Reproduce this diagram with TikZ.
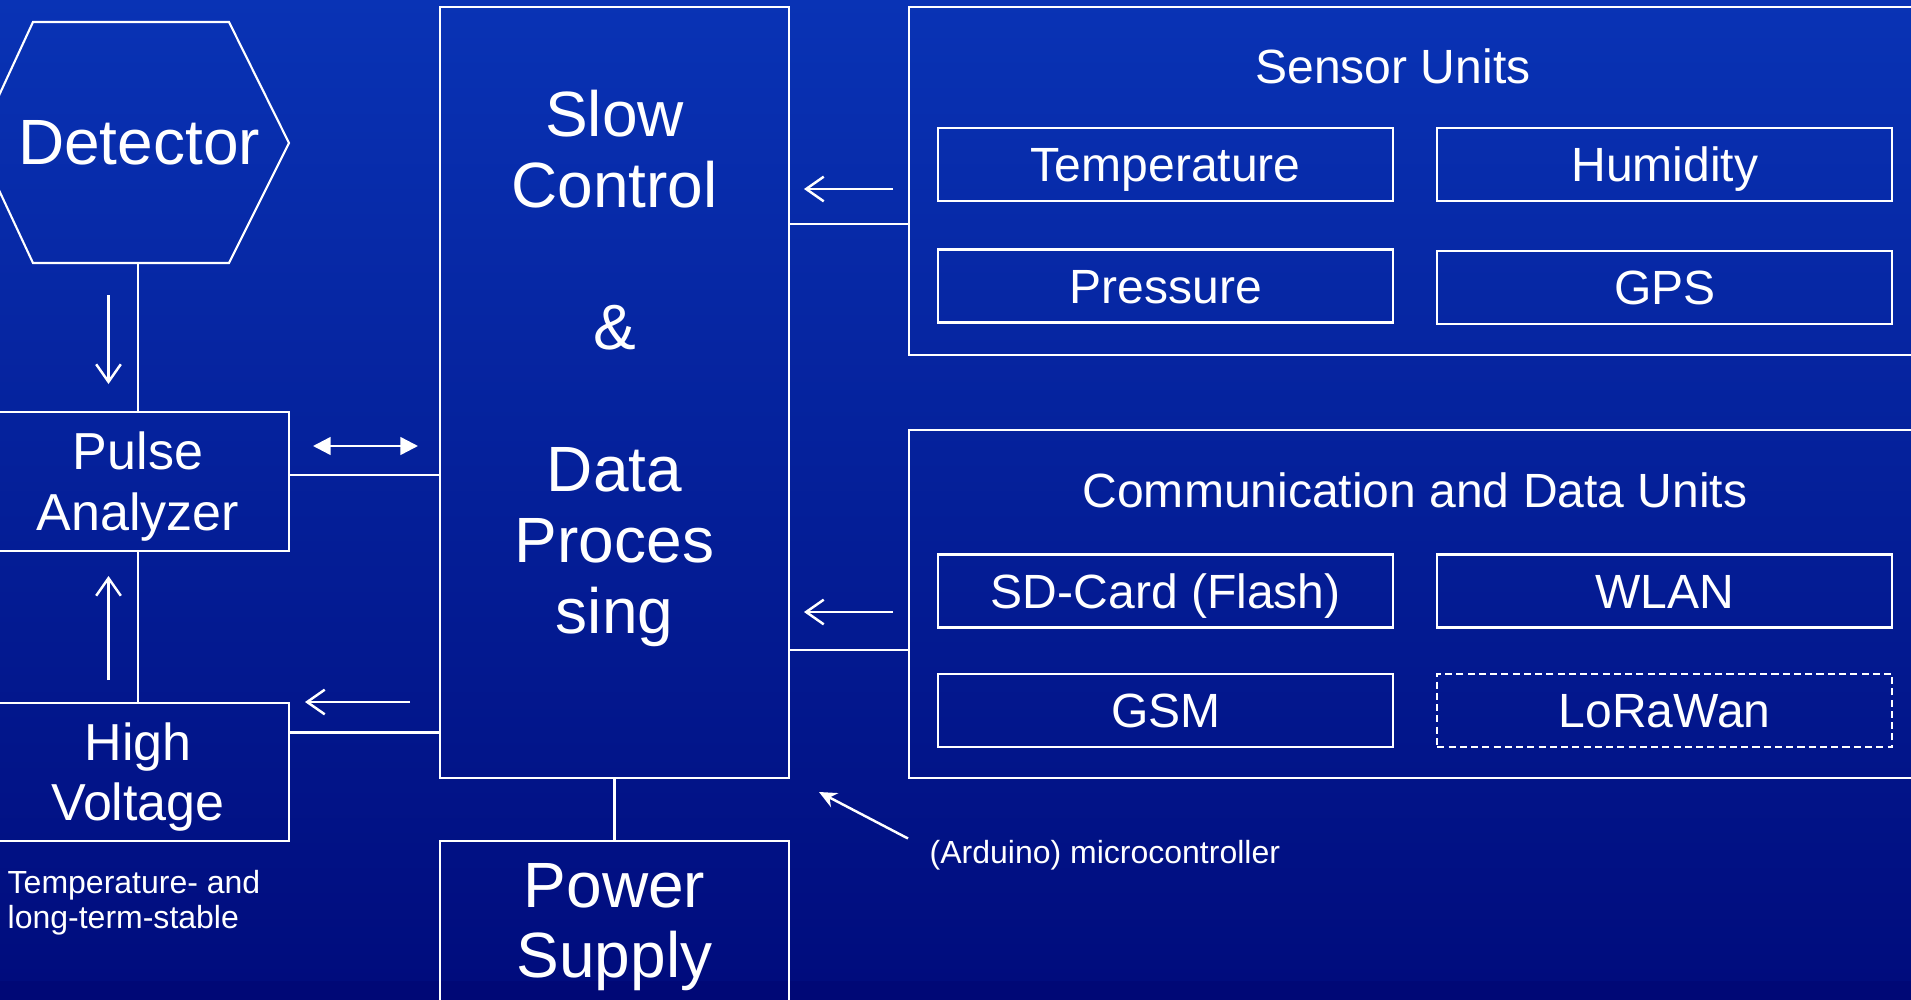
\documentclass[tikz,border=0pt]{standalone}
\usepackage{fontspec}
\setmainfont{Liberation Sans}
\usetikzlibrary{arrows.meta,calc}
\definecolor{bgtop}{RGB}{9,51,181}
\definecolor{bgbot}{RGB}{0,12,125}
\definecolor{bgband}{RGB}{0,8,118}
\begin{document}
\begin{tikzpicture}[x=0.01cm,y=0.01cm,
  box/.style={draw=white, line width=0.6pt, inner sep=0pt, text=white, align=center},
  label/.style={text=white, inner sep=0pt, align=center},
  conn/.style={draw=white, line width=0.6pt},
  openarrow/.style={draw=white, line width=0.7pt, -{Straight Barb[length=5pt,width=7pt]}},
  big/.style={font=\fontsize{18.2}{20.2}\selectfont},
  mid/.style={font=\fontsize{14.8}{17.1}\selectfont},
  unitfont/.style={font=\fontsize{13.66}{16}\selectfont},
  small/.style={font=\fontsize{9.1}{10}\selectfont},
  unit/.style={box, unitfont, text height=9.8pt, text depth=0pt, minimum width=4.545cm, minimum height=0.73cm}]
\useasboundingbox (0,0) rectangle (1911,-1000);
\clip (0,0) rectangle (1911,-1000);
% background
\shade[top color=bgtop, bottom color=bgbot] (0,0) rectangle (1911,-981);
\fill[bgband] (0,-981) rectangle (1911,-1000);

% detector hexagon
\draw[conn] (-23,-143) -- (33,-22) -- (229,-22) -- (289,-143) -- (229,-263) -- (33,-263) -- cycle;
\node[label, big] (det) at (139,-143) {Detector};
\coordinate (hexbot) at (138,-263);

% left boxes
\node[box, minimum width=3.02cm, minimum height=1.39cm] (pa) at (138,-481.5) {};
\node[label, mid] (patext) at (138,-486.5) {Pulse\\Analyzer};
\node[box, minimum width=3.02cm, minimum height=1.38cm] (hv) at (138,-772) {};
\node[label, font=\fontsize{14.8}{16.8}\selectfont] (hvtext) at (138,-777) {High\\Voltage};
\node[label, small, anchor=west, align=left] (hvnote) at (7,-903) {Temperature- and\\long-term-stable};

% slow control
\node[box, minimum width=3.49cm, minimum height=7.71cm] (sc) at (614.5,-392.5) {};
\node[label, big] (sctext) at (614.5,-368.5) {Slow\\Control\\[20.2pt]\&\\[20.2pt]Data\\Proces\\sing};

% power supply
\node[box, minimum width=3.49cm, minimum height=1.7cm] (ps) at (614.5,-926) {};
\node[label, font=\fontsize{18.2}{19.9}\selectfont] (pstext) at (614.5,-927.5) {Power\\Supply};

% sensor units
\node[box, minimum width=10.21cm, minimum height=3.48cm] (su) at (1419.5,-181) {};
\node[label, unitfont] (sutitle) at (1393,-66) {Sensor Units};
\node[unit] (temp) at (1165.75,-164.5) {Temperature};
\node[unit] (hum) at (1664.75,-164.5) {Humidity};
\node[unit] (press) at (1165.75,-286) {Pressure};
\node[unit] (gps) at (1664.75,-287.5) {GPS};

% communication units
\node[box, minimum width=10.21cm, minimum height=3.48cm] (cdu) at (1419.5,-604) {};
\node[label, unitfont] (cdutitle) at (1415,-490) {Communication and Data Units};
\node[unit] (sd) at (1165.75,-591) {SD-Card (Flash)};
\node[unit] (wlan) at (1664.75,-591) {WLAN};
\node[unit] (gsm) at (1165.75,-710.5) {GSM};
\node[unit, dash pattern=on 2pt off 1.2pt] (lora) at (1664.75,-710.5) {LoRaWan};

% microcontroller note
\node[label, small, anchor=west] (ardnote) at (929,-855) {(Arduino) microcontroller};

% connectors
\draw[conn] (hexbot) -- (pa.north);
\draw[conn] (pa.south) -- (hv.north);
\draw[conn] (sc.south) -- (ps.north);
\draw[conn] (pa.east |- 0,-475) -- (sc.west |- 0,-475);
\draw[conn] (hv.east |- 0,-732.5) -- (sc.west |- 0,-732.5);
\draw[conn] (sc.east |- 0,-224) -- (su.west |- 0,-224);
\draw[conn] (sc.east |- 0,-650) -- (cdu.west |- 0,-650);

% free arrows
\coordinate (a1s) at (108.5,-295); \coordinate (a1e) at (108.5,-384);
\coordinate (a2s) at (108.5,-680); \coordinate (a2e) at (108.5,-576);
\coordinate (a3s) at (313,-446);   \coordinate (a3e) at (418,-446);
\coordinate (a4s) at (410,-702);   \coordinate (a4e) at (305,-702);
\coordinate (a5s) at (893,-189);   \coordinate (a5e) at (804,-189);
\coordinate (a6s) at (893,-612);   \coordinate (a6e) at (804,-612);
\coordinate (a7s) at (908,-838.5); \coordinate (a7e) at (819,-792);
\draw[openarrow] (a1s) -- (a1e);
\draw[openarrow] (a2s) -- (a2e);
\draw[draw=white, line width=0.7pt, {Triangle[length=5pt,width=5pt]}-{Triangle[length=5pt,width=5pt]}] (a3s) -- (a3e);
\draw[openarrow] (a4s) -- (a4e);
\draw[openarrow] (a5s) -- (a5e);
\draw[openarrow] (a6s) -- (a6e);
\draw[draw=white, fill=white, line width=0.7pt, -{Stealth[length=5pt,width=4.5pt]}] (a7s) -- (a7e);
\end{tikzpicture}
\end{document}
